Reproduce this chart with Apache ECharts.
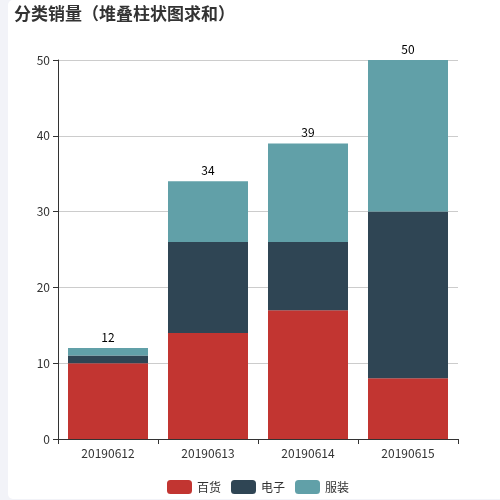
<!DOCTYPE html>
<html>
<head>
<meta charset="utf-8">
<script src="https://cdn.jsdelivr.net/npm/echarts@6/dist/echarts.min.js"></script>
<style>
html,body{margin:0;padding:0;background:#f2f3f8;width:500px;height:500px;overflow:hidden;}
#card{position:absolute;left:8px;top:0;width:520px;height:499px;background:#fff;border-radius:5px;overflow:hidden;}
#chart{position:absolute;left:0;top:0;width:500px;height:499px;}
</style>
</head>
<body>
<div id="card"><div id="chart"></div></div>
<script>
var categories = ['20190612', '20190613', '20190614', '20190615'];
var seriesNames = ['百货', '电子', '服装'];
var baihuo = [10, 14, 17, 8];
var dianzi = [1, 12, 9, 22];
var fuzhuang = [1, 8, 13, 20];
var colors = ['#c23531', '#2f4554', '#61a0a8'];

var all = [baihuo, dianzi, fuzhuang];
var FONT = '"Noto Sans CJK SC", "Noto Sans", sans-serif';
var chart = echarts.init(document.getElementById('chart'));
var series = all.map(function (arr, i) {
  var s = {
    name: seriesNames[i],
    type: 'bar',
    stack: 'total',
    barCategoryGap: '20%',
    data: arr,
    itemStyle: { color: colors[i] }
  };
  if (i === all.length - 1) {
    s.label = {
      show: true,
      position: 'top',
      color: '#000',
      fontSize: 12,
      fontFamily: FONT,
      formatter: function (p) {
        var t = 0;
        all.forEach(function (a) { t += a[p.dataIndex]; });
        return t;
      }
    };
  }
  return s;
});
chart.setOption({
  animation: false,
  textStyle: { fontFamily: FONT },
  title: {
    text: '分类销量（堆叠柱状图求和）',
    left: 1,
    top: 0,
    textStyle: { fontSize: 17, fontWeight: 'bold', color: '#333', fontFamily: FONT }
  },
  legend: {
    data: seriesNames,
    bottom: 0,
    left: 'center',
    itemWidth: 25,
    itemHeight: 14,
    itemGap: 10,
    textStyle: { fontSize: 12, color: '#333', fontFamily: FONT }
  },
  grid: { left: 50, right: 50, top: 60, bottom: 60 },
  xAxis: {
    type: 'category',
    data: categories,
    axisLine: { show: true, lineStyle: { color: '#333' } },
    axisTick: { show: true, alignWithLabel: false, lineStyle: { color: '#333' } },
    axisLabel: { color: '#333', fontSize: 12, margin: 8 },
    splitLine: { show: false }
  },
  yAxis: {
    type: 'value',
    min: 0,
    max: 50,
    interval: 10,
    axisLine: { show: true, lineStyle: { color: '#333' } },
    axisTick: { show: true, lineStyle: { color: '#333' } },
    axisLabel: { color: '#333', fontSize: 12, margin: 8 },
    splitLine: { show: true, lineStyle: { color: '#ccc' } }
  },
  series: series
});
</script>
</body>
</html>
